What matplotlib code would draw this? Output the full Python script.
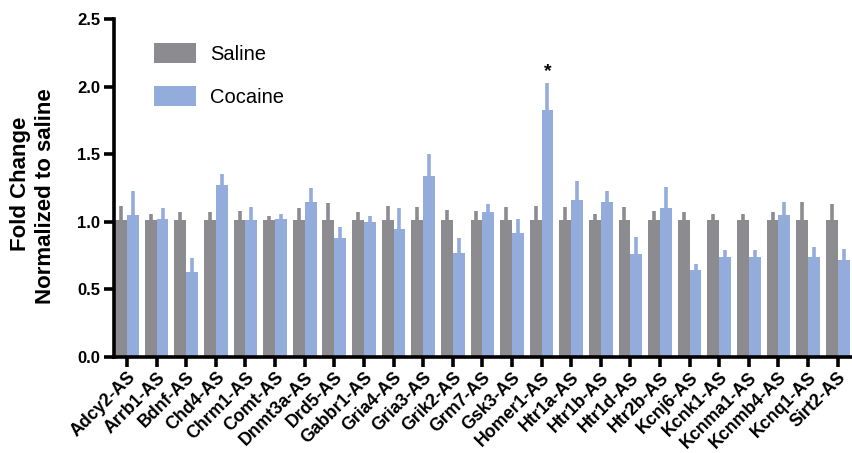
import matplotlib
matplotlib.use("Agg")
import matplotlib.pyplot as plt
import numpy as np
from matplotlib.patches import Patch

plt.rcParams['font.family'] = ['Liberation Sans', 'DejaVu Sans']

genes = ["Adcy2-AS", "Arrb1-AS", "Bdnf-AS", "Chd4-AS", "Chrm1-AS", "Comt-AS",
         "Dnmt3a-AS", "Drd5-AS", "Gabbr1-AS", "Gria4-AS", "Gria3-AS", "Grik2-AS",
         "Grm7-AS", "Gsk3-AS", "Homer1-AS", "Htr1a-AS", "Htr1b-AS", "Htr1d-AS",
         "Htr2b-AS", "Kcnj6-AS", "Kcnk1-AS", "Kcnma1-AS", "Kcnmb4-AS", "Kcnq1-AS",
         "Sirt2-AS"]

saline = [1.01] * 25
saline_err_top = [1.12, 1.06, 1.07, 1.07, 1.08, 1.04, 1.10, 1.14, 1.07, 1.12,
                  1.11, 1.09, 1.08, 1.11, 1.12, 1.11, 1.06, 1.11, 1.08, 1.07,
                  1.06, 1.06, 1.07, 1.15, 1.13]
cocaine = [1.05, 1.02, 0.63, 1.27, 1.01, 1.02, 1.15, 0.88, 1.00, 0.95,
           1.34, 0.77, 1.07, 0.92, 1.83, 1.16, 1.15, 0.76, 1.10, 0.64,
           0.74, 0.74, 1.05, 0.74, 0.72]
cocaine_err_top = [1.23, 1.10, 0.73, 1.35, 1.11, 1.06, 1.25, 0.96, 1.04, 1.10,
                   1.50, 0.88, 1.13, 1.02, 2.03, 1.30, 1.23, 0.89, 1.26, 0.69,
                   0.79, 0.79, 1.15, 0.81, 0.80]
yticks = [0.0, 0.5, 1.0, 1.5, 2.0, 2.5]

gray = "#8c8b90"
blue = "#94acdb"

fig = plt.figure(figsize=(8.52, 4.53), dpi=100)
ax = fig.add_axes([114/852, 1-357/453, (851-114)/852, (357-19)/453])

x = np.arange(len(genes))
w = 0.4
sal = np.array(saline)
coc = np.array(cocaine)
ax.bar(x - w/2, sal, width=w, color=gray, zorder=2)
ax.bar(x + w/2, coc, width=w, color=blue, zorder=2)
ax.errorbar(x - w/2, sal, yerr=[np.zeros_like(sal), np.array(saline_err_top) - sal],
            fmt='none', ecolor=gray, elinewidth=2.6, capsize=0, zorder=1)
ax.errorbar(x + w/2, coc, yerr=[np.zeros_like(coc), np.array(cocaine_err_top) - coc],
            fmt='none', ecolor=blue, elinewidth=2.6, capsize=0, zorder=1)

ax.text(x[14] + w/2, cocaine_err_top[14] + 0.02, "*", ha='center', va='bottom',
        fontsize=14, fontweight='bold')

ax.set_xlim(-0.44, 24.45)
ax.set_ylim(0, 2.5)
ax.set_yticks(yticks)
ax.set_yticklabels([f"{v:.1f}" for v in yticks], fontsize=12, fontweight='bold')
ax.set_xticks(x)
ax.set_xticklabels(genes, rotation=45, ha='right', rotation_mode='anchor',
                   fontsize=12.8, fontweight='bold')
for s in ['top', 'right']:
    ax.spines[s].set_visible(False)
ax.spines['left'].set_linewidth(2.6)
ax.spines['bottom'].set_linewidth(2.6)
ax.tick_params(axis='both', direction='out', length=7, width=2.6, pad=3)
ax.tick_params(axis='x', pad=1.5)

fig.text(21/852, 1-184/453, "Fold Change", rotation=90, ha='center', va='center',
         fontsize=16, fontweight='bold')
fig.text(46/852, 1-196/453, "Normalized to saline", rotation=90, ha='center', va='center',
         fontsize=16, fontweight='bold')

handles = [Patch(facecolor=gray, edgecolor='none'), Patch(facecolor=blue, edgecolor='none')]
leg = fig.legend(handles, ["Saline", "Cocaine"], loc='upper left',
                 bbox_to_anchor=(154/852, 1-43/453), frameon=False, fontsize=14.5,
                 handlelength=2.09, handleheight=1.14, labelspacing=1.12,
                 handletextpad=0.7, borderaxespad=0, borderpad=0)

fig.savefig("out.png", dpi=100)
